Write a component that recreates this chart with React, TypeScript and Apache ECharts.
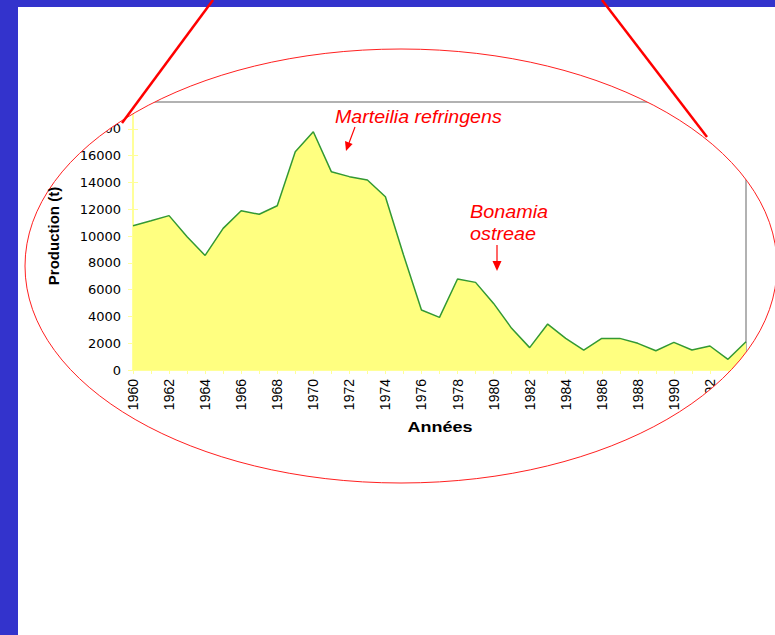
import React, { useEffect, useRef } from "react";
import * as echarts from "echarts";

const years = [
  "1960", "1961", "1962", "1963", "1964", "1965", "1966", "1967", "1968", "1969",
  "1970", "1971", "1972", "1973", "1974", "1975", "1976", "1977", "1978", "1979",
  "1980", "1981", "1982", "1983", "1984", "1985", "1986", "1987", "1988", "1989",
  "1990", "1991", "1992", "1993", "1994",
];

const production = [
  10770, 11140, 11520, 9950, 8550, 10570, 11890, 11620, 12260, 16290,
  17780, 14800, 14430, 14180, 12930, 8600, 4480, 3930, 6790, 6540,
  4970, 3110, 1670, 3430, 2360, 1490, 2360, 2360, 1990, 1440,
  2060, 1490, 1790, 800, 2110,
];

const yMin = 0;
const yMax = 20000;
const yStep = 2000;

const yTitle = "Production (t)";
const xTitle = "Années";
const note1 = "Marteilia refringens";
const note2a = "Bonamia";
const note2b = "ostreae";

export default function App() {
  const ref = useRef<HTMLDivElement>(null);

  useEffect(() => {
    if (!ref.current) return;
    const chart = echarts.init(ref.current, undefined, { renderer: "svg" });

    const W = 775;
    const H = 635;
    const cx = 401;
    const cy = 266;
    const rx = 376;
    const ry = 217;

    // mask outside the ellipse
    const maskPts: number[][] = [
      [W, cy], [W, H], [18, H], [18, 7], [W, 7], [W, cy],
    ];
    const n = 180;
    for (let i = 0; i <= n; i++) {
      const t = (-2 * Math.PI * i) / n;
      maskPts.push([cx + rx * Math.cos(t), cy + ry * Math.sin(t)]);
    }

    const font = "'Liberation Sans', Arial, sans-serif";

    chart.setOption({
      animation: false,
      backgroundColor: "#ffffff",
      grid: {
        left: 133,
        right: 29,
        top: 102,
        bottom: 265,
        show: true,
        borderColor: "#999999",
        borderWidth: 1.5,
        backgroundColor: "transparent",
      },
      xAxis: {
        type: "category",
        data: years,
        boundaryGap: false,
        axisLine: { show: true, lineStyle: { color: "#ffff99", width: 2 } },
        axisTick: { show: true, interval: 0, length: 4, lineStyle: { color: "#ffff99" } },
        axisLabel: {
          interval: 1,
          rotate: 90,
          margin: 9,
          color: "#000",
          fontFamily: font,
          fontSize: 14,
        },
        splitLine: { show: false },
      },
      yAxis: [
        {
          type: "value",
          min: yMin,
          max: yMax,
          interval: yStep,
          axisLine: { show: true, lineStyle: { color: "#ffff99", width: 2 } },
          axisTick: { show: true, length: 5, lineStyle: { color: "#ffff99" } },
          axisLabel: {
            margin: 12,
            color: "#000",
            fontFamily: "'DejaVu Sans', sans-serif",
            fontSize: 13,
            formatter: (v: number) => String(v),
          },
          splitLine: { show: false },
        },
        {
          type: "value",
          position: "left",
          min: yMin,
          max: yMax,
          interval: yStep,
          axisLine: { show: false },
          axisTick: { show: true, inside: true, length: 5, lineStyle: { color: "#ffff99" } },
          axisLabel: { show: false },
          splitLine: { show: false },
        },
      ],
      series: [
        {
          type: "line",
          data: production,
          yAxisIndex: 0,
          symbol: "none",
          lineStyle: { color: "#339933", width: 1.5 },
          areaStyle: { color: "#ffff80", opacity: 1 },
          z: 2,
        },
      ],
      graphic: {
        elements: [
          {
            type: "polygon",
            z: 50,
            silent: true,
            shape: { points: maskPts },
            style: { fill: "#ffffff", stroke: "none" },
          },
          {
            type: "ellipse",
            z: 51,
            silent: true,
            shape: { cx, cy, rx, ry },
            style: { fill: "none", stroke: "#ff2020", lineWidth: 1 },
          },
          {
            type: "rect",
            z: 52,
            silent: true,
            shape: { x: 0, y: 0, width: 18, height: H },
            style: { fill: "#3333cc" },
          },
          {
            type: "rect",
            z: 52,
            silent: true,
            shape: { x: 0, y: 0, width: W, height: 7 },
            style: { fill: "#3333cc" },
          },
          {
            type: "line",
            z: 53,
            silent: true,
            shape: { x1: 213, y1: 0, x2: 122, y2: 123 },
            style: { stroke: "#ff0000", lineWidth: 2.5 },
          },
          {
            type: "line",
            z: 53,
            silent: true,
            shape: { x1: 602, y1: 0, x2: 707, y2: 137 },
            style: { stroke: "#ff0000", lineWidth: 2.5 },
          },
          {
            type: "text",
            z: 54,
            x: 335,
            y: 116.5,
            scaleX: 1.09,
            style: {
              text: note1,
              fill: "#ff0000",
              font: `italic 18px ${font}`,
              align: "left",
              verticalAlign: "middle",
            },
          },
          {
            type: "line",
            z: 54,
            silent: true,
            shape: { x1: 355, y1: 127, x2: 349, y2: 143 },
            style: { stroke: "#ff0000", lineWidth: 1.2 },
          },
          {
            type: "polygon",
            z: 54,
            silent: true,
            shape: { points: [[346, 151], [352.6, 144], [345, 141]] },
            style: { fill: "#ff0000" },
          },
          {
            type: "text",
            z: 54,
            x: 470,
            y: 211.5,
            scaleX: 1.1,
            style: {
              text: note2a,
              fill: "#ff0000",
              font: `italic 18px ${font}`,
              align: "left",
              verticalAlign: "middle",
            },
          },
          {
            type: "text",
            z: 54,
            x: 470,
            y: 234,
            scaleX: 1.1,
            style: {
              text: note2b,
              fill: "#ff0000",
              font: `italic 18px ${font}`,
              align: "left",
              verticalAlign: "middle",
            },
          },
          {
            type: "line",
            z: 54,
            silent: true,
            shape: { x1: 497, y1: 245, x2: 497, y2: 263 },
            style: { stroke: "#ff0000", lineWidth: 1.2 },
          },
          {
            type: "polygon",
            z: 54,
            silent: true,
            shape: { points: [[497, 271], [492.5, 261], [501.5, 261]] },
            style: { fill: "#ff0000" },
          },
          {
            type: "text",
            z: 54,
            x: 53,
            y: 236,
            rotation: Math.PI / 2,
            style: {
              text: yTitle,
              fill: "#000",
              font: `bold 15px ${font}`,
              align: "center",
              verticalAlign: "middle",
            },
          },
          {
            type: "text",
            z: 54,
            x: 440,
            y: 427,
            scaleX: 1.2,
            style: {
              text: xTitle,
              fill: "#000",
              font: `bold 15px ${font}`,
              align: "center",
              verticalAlign: "middle",
            },
          },
        ],
      },
    });

    return () => chart.dispose();
  }, []);

  return (
    <div
      ref={ref}
      style={{ position: "absolute", left: 0, top: 0, width: 775, height: 635 }}
    />
  );
}
